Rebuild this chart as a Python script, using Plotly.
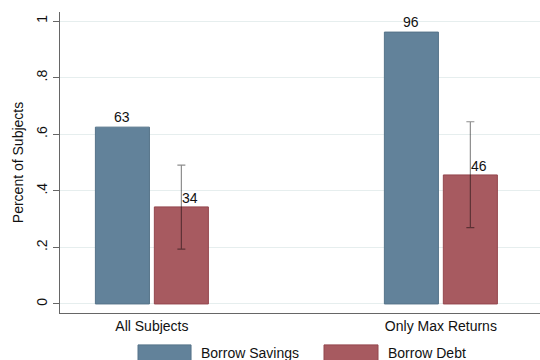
import plotly.graph_objects as go

categories = ["All Subjects", "Only Max Returns"]
savings = [0.625, 0.961]
debt = [0.343, 0.456]
debt_hi = [0.491, 0.644]
debt_lo = [0.194, 0.270]
savings_labels = ["63", "96"]
debt_labels = ["34", "46"]

BLUE = "#62829a"
RED = "#a75a60"
off = 0.102
w = 0.187
xc = list(range(len(categories)))
FS = 14

fig = go.Figure()
fig.add_trace(go.Bar(
    x=[c - off for c in xc], y=savings, width=w, name="Borrow Savings",
    marker=dict(color=BLUE, line=dict(color="#557389", width=1)),
))
fig.add_trace(go.Bar(
    x=[c + off for c in xc], y=debt, width=w, name="Borrow Debt",
    marker=dict(color=RED, line=dict(color="#94464d", width=1)),
    error_y=dict(type="data", symmetric=False,
                 array=[h - v for h, v in zip(debt_hi, debt)],
                 arrayminus=[v - l for l, v in zip(debt_lo, debt)],
                 color="rgba(0,0,0,0.45)", thickness=1.2, width=4),
))

ann = []
for i, c in enumerate(xc):
    ann.append(dict(x=c - off, y=savings[i], xref="x", yref="y", text=savings_labels[i],
                    showarrow=False, yanchor="bottom", xanchor="center", yshift=0,
                    font=dict(size=FS, color="#111")))
    ann.append(dict(x=c + off, y=debt[i], xref="x", yref="y", text=debt_labels[i],
                    showarrow=False, yanchor="bottom", xanchor="left", xshift=-1, yshift=-1,
                    font=dict(size=FS, color="#111")))

# legend drawn manually to mimic large swatches
shapes = [
    dict(type="rect", xref="paper", yref="paper", x0=0.1625, x1=0.273, y0=-0.163, y1=-0.106,
         fillcolor=BLUE, line=dict(color="#557389", width=1)),
    dict(type="rect", xref="paper", yref="paper", x0=0.55, x1=0.6625, y0=-0.163, y1=-0.106,
         fillcolor=RED, line=dict(color="#94464d", width=1)),
]
ann.append(dict(x=0.290, y=-0.134, xref="paper", yref="paper", text="Borrow Savings",
                showarrow=False, xanchor="left", yanchor="middle", font=dict(size=FS, color="#111")))
ann.append(dict(x=0.679, y=-0.134, xref="paper", yref="paper", text="Borrow Debt",
                showarrow=False, xanchor="left", yanchor="middle", font=dict(size=FS, color="#111")))

fig.update_layout(
    width=540, height=360,
    margin=dict(l=60, r=0, t=12, b=47),
    paper_bgcolor="white", plot_bgcolor="white",
    font=dict(family="Liberation Sans, Arial", size=FS, color="#111"),
    showlegend=False,
    annotations=ann, shapes=shapes,
    xaxis=dict(range=[-0.318, 1.343], tickvals=xc, ticktext=categories,
               showgrid=False, zeroline=False, showline=True, linecolor="#666", linewidth=1,
               ticks="", tickfont=dict(size=FS)),
    yaxis=dict(range=[-0.032, 1.032], tickvals=[0, 0.2, 0.4, 0.6, 0.8, 1],
               ticktext=["0", ".2", ".4", ".6", ".8", "1"], tickangle=-90,
               showgrid=True, gridcolor="#e6eeee", gridwidth=1, zeroline=False,
               showline=True, linecolor="#666", linewidth=1,
               ticks="outside", ticklen=6, tickcolor="#666",
               title=dict(text="Percent of Subjects", font=dict(size=FS), standoff=7),
               tickfont=dict(size=FS)),
)

fig.write_html("out.html")
